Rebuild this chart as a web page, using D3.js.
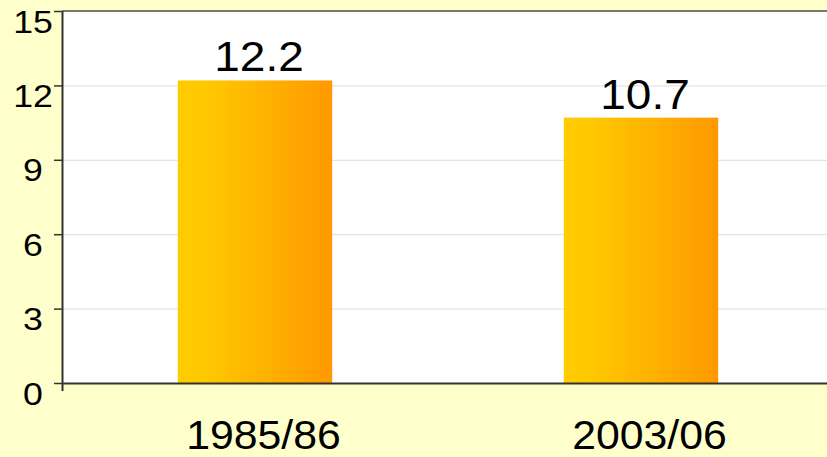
<!DOCTYPE html>
<html>
<head>
<meta charset="utf-8">
<script src="https://cdn.jsdelivr.net/npm/d3@7"></script>
<style>
  html, body { margin: 0; padding: 0; background: #ffffcc; }
  svg { display: block; font-family: "Liberation Sans", Arial, sans-serif; }
</style>
</head>
<body>
<svg id="chart" width="827" height="457"></svg>
<script>
const categories = ["1985/86", "2003/06"];
const values = [12.2, 10.7];
const yTicks = [0, 3, 6, 9, 12, 15];

const width = 827;
const height = 457;
const margin = { top: 11, right: -7, bottom: 74, left: 62 };

const svg = d3.select("#chart");

const x = d3
  .scaleBand()
  .domain(categories)
  .range([margin.left, width - margin.right])
  .paddingInner(0.6)
  .paddingOuter(0.3);

const y = d3
  .scaleLinear()
  .domain([0, 15])
  .range([height - margin.bottom, margin.top]);

const defs = svg.append("defs");
const grad = defs
  .append("linearGradient")
  .attr("id", "barGrad")
  .attr("x1", "0%")
  .attr("x2", "100%")
  .attr("y1", "0%")
  .attr("y2", "0%");
grad.append("stop").attr("offset", "0%").attr("stop-color", "#ffcc00");
grad.append("stop").attr("offset", "18%").attr("stop-color", "#ffc800");
grad.append("stop").attr("offset", "100%").attr("stop-color", "#ff9900");

// plot area
svg
  .append("rect")
  .attr("x", margin.left)
  .attr("y", y(15))
  .attr("width", width - margin.left)
  .attr("height", y(0) - y(15))
  .attr("fill", "#ffffff");

// gridlines
svg
  .append("g")
  .selectAll("line")
  .data(yTicks.filter(d => d > 0 && d < 15))
  .join("line")
  .attr("x1", margin.left)
  .attr("x2", width)
  .attr("y1", d => y(d) + 0.5)
  .attr("y2", d => y(d) + 0.5)
  .attr("stroke", "#dddddd")
  .attr("stroke-width", 1);

// top border
svg
  .append("line")
  .attr("x1", margin.left)
  .attr("x2", width)
  .attr("y1", y(15))
  .attr("y2", y(15))
  .attr("stroke", "#7a7a66")
  .attr("stroke-width", 2);

// bars
svg
  .append("g")
  .selectAll("rect")
  .data(values)
  .join("rect")
  .attr("x", (d, i) => x(categories[i]))
  .attr("y", d => y(d))
  .attr("width", x.bandwidth())
  .attr("height", d => y(0) - y(d))
  .attr("fill", "url(#barGrad)");

// value labels (text in the original is a bit wide, so stretch it)
svg
  .append("g")
  .selectAll("text")
  .data(values)
  .join("text")
  .attr("transform", (d, i) => {
    const cx = x(categories[i]) + x.bandwidth() / 2 + 4;
    return `translate(${cx},${y(d) - 9}) scale(1.07,1)`;
  })
  .attr("text-anchor", "middle")
  .attr("font-size", 43)
  .attr("fill", "#000")
  .text(d => d.toFixed(1));

// y axis line + ticks
svg
  .append("line")
  .attr("x1", margin.left + 0.5)
  .attr("x2", margin.left + 0.5)
  .attr("y1", y(15))
  .attr("y2", y(0) + 8)
  .attr("stroke", "#333")
  .attr("stroke-width", 2);

const yTick = svg.append("g").selectAll("g").data(yTicks).join("g");
yTick
  .append("line")
  .attr("x1", margin.left - 8)
  .attr("x2", margin.left)
  .attr("y1", d => y(d) + 0.5)
  .attr("y2", d => y(d) + 0.5)
  .attr("stroke", "#333")
  .attr("stroke-width", 1.5);
yTick
  .append("text")
  .attr("transform", d => `translate(33,${y(d) + 21.5}) scale(1.15,1)`)
  .attr("text-anchor", "middle")
  .attr("font-size", 31)
  .attr("fill", "#000")
  .text(d => d);

// x axis
svg
  .append("line")
  .attr("x1", margin.left)
  .attr("x2", width)
  .attr("y1", y(0) + 0.5)
  .attr("y2", y(0) + 0.5)
  .attr("stroke", "#333")
  .attr("stroke-width", 2);

svg
  .append("g")
  .selectAll("text")
  .data(categories)
  .join("text")
  .attr("transform", d => `translate(${x(d) + x.bandwidth() / 2 + 8.5},448.5) scale(1.07,1)`)
  .attr("text-anchor", "middle")
  .attr("font-size", 40)
  .attr("fill", "#000")
  .text(d => d);
</script>
</body>
</html>
